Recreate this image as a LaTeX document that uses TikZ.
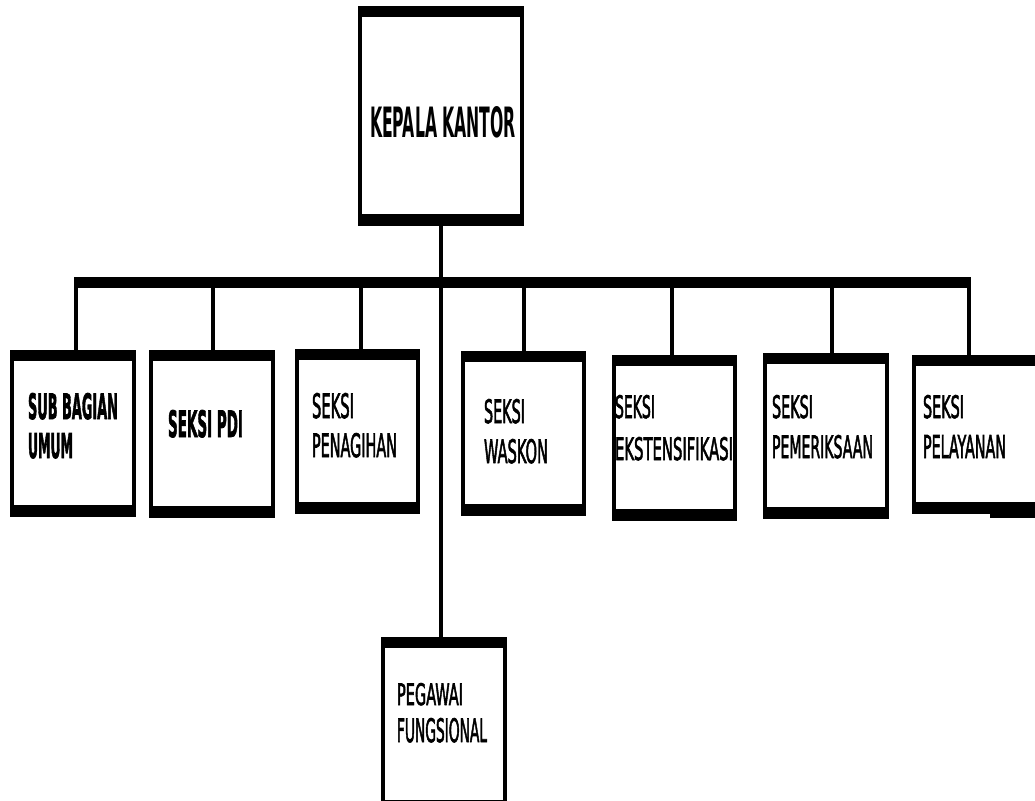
\documentclass[tikz,border=0pt]{standalone}
\usepackage{fontspec}
\setmainfont{DejaVu Sans Condensed}[FakeBold=2.5]
\newfontfamily\heavyfont{DejaVu Sans}
\usepackage{graphicx}
\tikzset{
  x=1pt, y=-1pt,
  orgbox/.style={rectangle, inner sep=0pt, outer sep=0pt, fill=black,
    path picture={\fill[white] ([xshift=4pt,yshift=12pt]path picture bounding box.south west)
      rectangle ([xshift=-4pt,yshift=-11pt]path picture bounding box.north east);}},
  conn/.style={line width=4pt, draw=black},
  bar/.style={line width=11pt, draw=black},
  lbl/.style={inner sep=0pt, outer sep=0pt, anchor=base west},
}
\newcommand{\obox}[5]{% name, left, top, right, bottom
  \node[orgbox, minimum width={#4-#2}, minimum height={#5-#3}] (#1) at ({(#2+#4)/2},{(#3+#5)/2}) {};}
\newcommand{\tl}[6]{% name, left, top, right, bottom, text
  \node[lbl] (#1) at (#2,#5) {\resizebox{\dimexpr #4pt-#2pt\relax}{\dimexpr #5pt-#3pt\relax}{#6}};}
\begin{document}
\begin{tikzpicture}
\useasboundingbox (0,0) rectangle (1035,800);
\clip (0,0) rectangle (1035,800);
\fill[white] (0,0) rectangle (1035,800);
% boxes
\obox{kk}{358}{6}{524}{226}
\obox{sub}{10}{350}{136}{517}
\obox{pdi}{149}{350}{275}{518}
\obox{pen}{295}{349}{420}{514}
\obox{was}{461}{351}{586}{516}
\obox{eks}{612}{355}{737}{521}
\obox{pem}{763}{353}{889}{519}
\obox{pel}{912}{355}{1045}{514}
\obox{peg}{381}{637}{507}{812}
\fill (990,512) rectangle (1035,518);
% connectors
\coordinate (d1) at (76,282.5);
\coordinate (d2) at (212.5,282.5);
\coordinate (d3) at (361,282.5);
\coordinate (d4) at (524,282.5);
\coordinate (d5) at (671.5,282.5);
\coordinate (d6) at (832,282.5);
\coordinate (d7) at (969,282.5);
\draw[bar] ([xshift=-2pt]d1) -- ([xshift=2pt]d7);
\draw[conn] (d1) -- (d1 |- sub.north);
\draw[conn] (d2) -- (d2 |- pdi.north);
\draw[conn] (d3) -- (d3 |- pen.north);
\draw[conn] (d4) -- (d4 |- was.north);
\draw[conn] (d5) -- (d5 |- eks.north);
\draw[conn] (d6) -- (d6 |- pem.north);
\draw[conn] (d7) -- (d7 |- pel.north);
\draw[conn] (kk.south) -- (kk.south |- peg.north);
% labels
\tl{tkk}{370}{106}{516}{137}{\heavyfont\bfseries KEPALA KANTOR}
\tl{ts1}{28}{393}{118}{419}{\textbf{SUB BAGIAN}}
\tl{ts2}{28}{433}{73}{458}{\textbf{UMUM}}
\tl{tp1}{168}{410}{243}{437}{\textbf{SEKSI PDI}}
\tl{tn1}{312}{393}{354}{418}{SEKSI}
\tl{tn2}{312}{433}{397}{457}{PENAGIHAN}
\tl{tw1}{484}{399}{525}{423}{SEKSI}
\tl{tw2}{484}{439}{548}{463}{WASKON}
\tl{te1}{615}{395}{655}{418}{SEKSI}
\tl{te2}{615}{437}{733}{460}{EKSTENSIFIKASI}
\tl{tm1}{772}{395}{813}{418}{SEKSI}
\tl{tm2}{772}{435}{873}{458}{PEMERIKSAAN}
\tl{tl1}{923}{395}{964}{418}{SEKSI}
\tl{tl2}{923}{435}{1006}{458}{PELAYANAN}
\tl{tg1}{397}{683}{463}{705}{PEGAWAI}
\tl{tg2}{397}{718}{487}{742}{FUNGSIONAL}
\end{tikzpicture}
\end{document}
